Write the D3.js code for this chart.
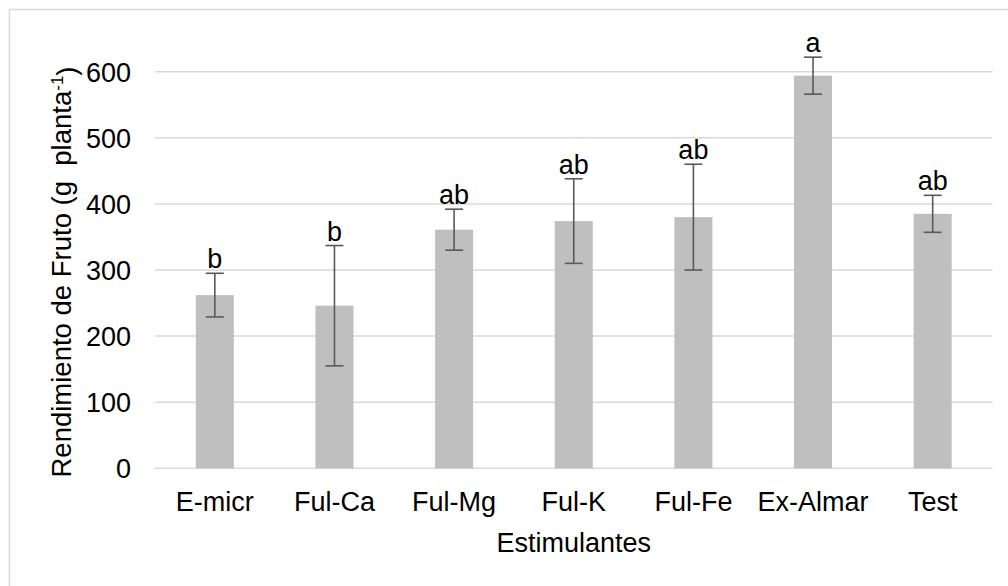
<!DOCTYPE html>
<html>
<head>
<meta charset="utf-8">
<script src="https://cdn.jsdelivr.net/npm/d3@7"></script>
<style>
  body { margin: 0; background: #fff; }
  text { font-family: "Liberation Sans", Arial, sans-serif; fill: #000; }
</style>
</head>
<body>
<div id="chart"></div>
<script>
// data
var categories = ["E-micr", "Ful-Ca", "Ful-Mg", "Ful-K", "Ful-Fe", "Ex-Almar", "Test"];
var yieldMean = [262, 246, 361, 374, 380, 594, 385];
var yieldErr = [33, 91, 31, 64, 80, 28, 28];
var letters = ["b", "b", "ab", "ab", "ab", "a", "ab"];
var yTicks = [0, 100, 200, 300, 400, 500, 600];

var W = 1008, H = 586;
var margin = {top: 71.7, right: 15.5, bottom: 117.7, left: 155};
var width = W - margin.left - margin.right;
var height = H - margin.top - margin.bottom;
var fs = "27px";

var svg = d3.select("#chart").append("svg")
    .attr("width", W)
    .attr("height", H);

// outer chart border
svg.append("rect")
   .attr("x", 9.5).attr("y", 9.5)
   .attr("width", W + 10).attr("height", H + 10)
   .attr("fill", "none")
   .attr("stroke", "#d9d9d9")
   .attr("stroke-width", 1.5);

var g = svg.append("g")
    .attr("transform", "translate(" + margin.left + "," + margin.top + ")");

var xScale = d3.scaleBand().domain(categories).range([0, width]).paddingInner(0.682).paddingOuter(0.341),
    yScale = d3.scaleLinear().domain([0, 600]).range([height, 0]);

// gridlines
g.append("g").selectAll("line")
 .data(yTicks).enter()
 .append("line")
 .attr("x1", 0).attr("x2", width)
 .attr("y1", function(d) { return yScale(d); })
 .attr("y2", function(d) { return yScale(d); })
 .attr("stroke", "#d9d9d9")
 .attr("stroke-width", 1.5);

var yAxis = d3.axisLeft(yScale).tickValues(yTicks).tickSize(0).tickPadding(24);
var yy = g.append("g").call(yAxis);
yy.select(".domain").remove();
yy.selectAll("text").style("font-size", fs).attr("dy", "0.35em");

var xAxis = d3.axisBottom(xScale).tickSize(0);
var xx = g.append("g").attr("transform", "translate(0," + height + ")").call(xAxis);
xx.select(".domain").remove();
xx.selectAll("text").style("font-size", fs).attr("dy", "0").attr("y", 43);

// bars
var idx = d3.range(categories.length);
g.append("g").selectAll("rect")
 .data(idx).enter()
 .append("rect")
 .attr("x", function(i) { return xScale(categories[i]); })
 .attr("width", xScale.bandwidth())
 .attr("y", function(i) { return yScale(yieldMean[i]); })
 .attr("height", function(i) { return height - yScale(yieldMean[i]); })
 .attr("fill", "#bfbfbf");

// error bars
var cx = function(i) { return xScale(categories[i]) + xScale.bandwidth() / 2; };
var eb = g.append("g").attr("stroke", "#595959").attr("stroke-width", 1.6);
eb.selectAll("line.v").data(idx).enter().append("line")
  .attr("class", "v")
  .attr("x1", cx).attr("x2", cx)
  .attr("y1", function(i) { return yScale(yieldMean[i] + yieldErr[i]); })
  .attr("y2", function(i) { return yScale(yieldMean[i] - yieldErr[i]); });
[1, -1].forEach(function(s) {
  eb.selectAll("line.c" + (s > 0 ? "t" : "b")).data(idx).enter().append("line")
    .attr("class", "c" + (s > 0 ? "t" : "b"))
    .attr("x1", function(i) { return cx(i) - 9; })
    .attr("x2", function(i) { return cx(i) + 9; })
    .attr("y1", function(i) { return yScale(yieldMean[i] + s * yieldErr[i]); })
    .attr("y2", function(i) { return yScale(yieldMean[i] + s * yieldErr[i]); });
});

// significance letters
g.append("g").selectAll("text")
 .data(idx).enter()
 .append("text")
 .attr("x", cx)
 .attr("y", function(i) { return yScale(yieldMean[i] + yieldErr[i]) - 5; })
 .attr("text-anchor", "middle")
 .style("font-size", fs)
 .text(function(i) { return letters[i]; });

// axis titles
svg.append("text")
   .attr("x", margin.left + width / 2)
   .attr("y", 552)
   .attr("text-anchor", "middle")
   .style("font-size", fs)
   .text("Estimulantes");

var yt = svg.append("text")
   .attr("transform", "translate(71," + 272 + ") rotate(-90)")
   .attr("text-anchor", "middle")
   .style("font-size", "27.5px");
yt.append("tspan").text("Rendimiento de Fruto (g\u00a0 planta");
yt.append("tspan").attr("dy", "-0.45em").style("font-size", "17px").text("-1");
yt.append("tspan").attr("dy", "0.45em").text(")");
</script>
</body>
</html>
